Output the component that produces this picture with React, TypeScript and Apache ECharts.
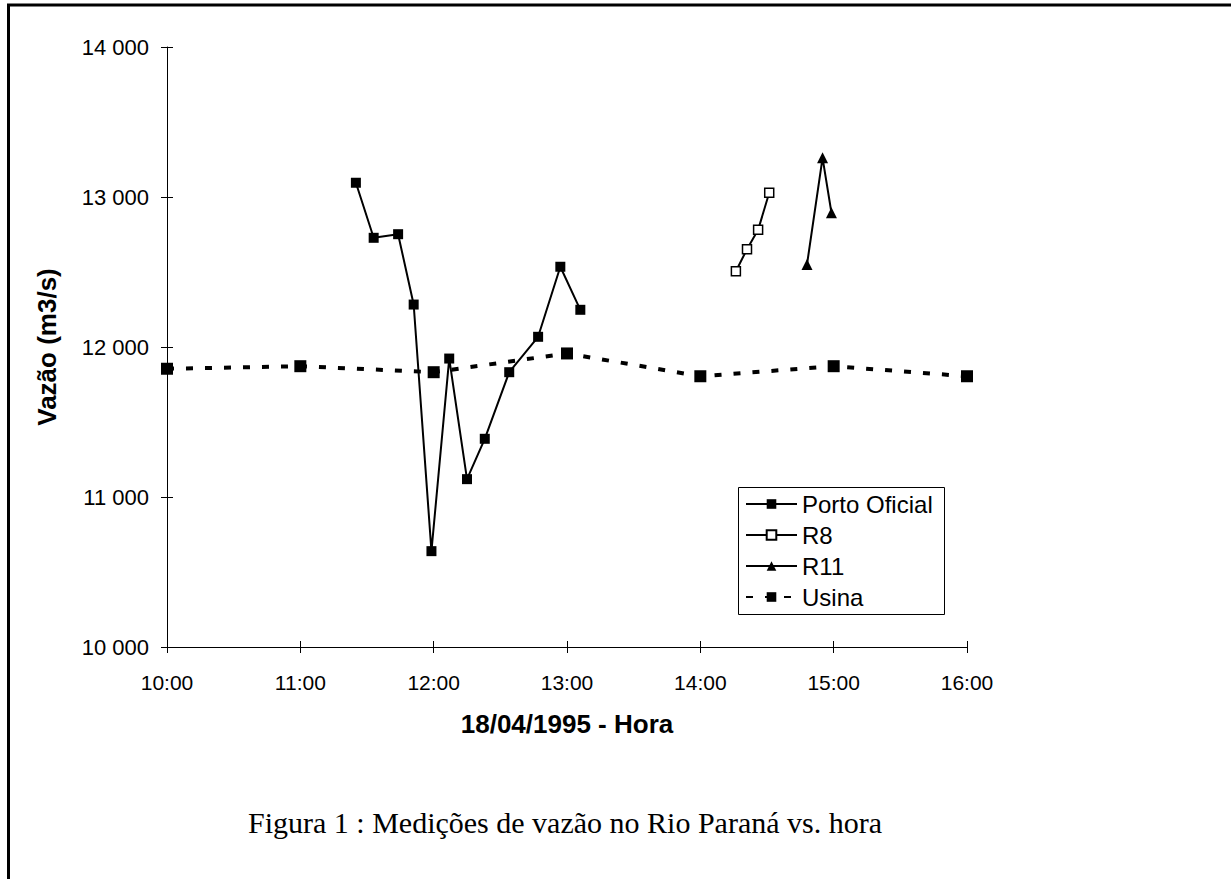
import React, { useEffect, useRef } from "react";
import * as echarts from "echarts";

const portoTimes = ["11:25", "11:33", "11:44", "11:51", "11:59", "12:07", "12:15", "12:23", "12:34", "12:47", "12:57", "13:06"];
const portoValues = [13095, 12728, 12752, 12283, 10639, 11923, 11119, 11388, 11832, 12068, 12535, 12248];
const r8Times = ["14:16", "14:21", "14:26", "14:31"];
const r8Values = [12505, 12652, 12781, 13028];
const r11Times = ["14:48", "14:55", "14:59"];
const r11Values = [12550, 13261, 12895];
const usinaTimes = ["10:00", "11:00", "12:00", "13:00", "14:00", "15:00", "16:00"];
const usinaValues = [11855, 11872, 11832, 11957, 11805, 11872, 11805];
const legendNames = ["Porto Oficial", "R8", "R11", "Usina"];

const toHours = (t: string) => {
  const [h, m] = t.split(":").map(Number);
  return h + m / 60;
};
const pair = (times: string[], vals: number[]) => times.map((t, i) => [toHours(t), vals[i]]);
const fmtHour = (v: number) => `${Math.round(v)}:00`;
const fmtVal = (v: number) => {
  const s = String(v);
  return s.length > 3 ? s.slice(0, s.length - 3) + " " + s.slice(-3) : s;
};

export default function App() {
  const ref = useRef<HTMLDivElement>(null);
  useEffect(() => {
    if (!ref.current) return;
    const chart = echarts.init(ref.current, undefined, { renderer: "svg" });
    const font = "Liberation Sans, Arial, sans-serif";
    const axisCommonX = { type: "value", min: 10, max: 16, interval: 1, gridIndex: 0, position: "bottom", splitLine: { show: false } };
    const axisCommonY = { type: "value", min: 10000, max: 14000, interval: 1000, gridIndex: 0, position: "left", splitLine: { show: false } };
    chart.setOption({
      animation: false,
      backgroundColor: "#fff",
      grid: { left: 167, right: 264, top: 47, bottom: 232, containLabel: false },
      xAxis: [
        {
          ...axisCommonX,
          name: "18/04/1995 - Hora",
          nameLocation: "middle",
          nameGap: 64,
          nameTextStyle: { fontFamily: font, fontSize: 26, fontWeight: "bold", color: "#000" },
          axisLine: { show: true, lineStyle: { color: "#000", width: 1 } },
          axisTick: { show: true, inside: false, length: 6, lineStyle: { color: "#000" } },
          axisLabel: { formatter: fmtHour, fontFamily: font, fontSize: 21, color: "#000", margin: 25 },
        },
        {
          ...axisCommonX,
          axisLine: { show: false },
          axisTick: { show: true, inside: true, length: 6, lineStyle: { color: "#000" } },
          axisLabel: { show: false },
        },
      ],
      yAxis: [
        {
          ...axisCommonY,
          name: "Vazão (m3/s)",
          nameLocation: "middle",
          nameGap: 107,
          nameTextStyle: { fontFamily: font, fontSize: 26, fontWeight: "bold", color: "#000" },
          axisLine: { show: true, lineStyle: { color: "#000", width: 1 } },
          axisTick: { show: true, inside: false, length: 6, lineStyle: { color: "#000" } },
          axisLabel: { formatter: fmtVal, fontFamily: font, fontSize: 22, color: "#000", margin: 18 },
        },
        {
          ...axisCommonY,
          axisLine: { show: false },
          axisTick: { show: true, inside: true, length: 6, lineStyle: { color: "#000" } },
          axisLabel: { show: false },
        },
      ],
      legend: {
        show: true,
        orient: "vertical",
        left: 745,
        top: 492,
        padding: 0,
        itemGap: 7,
        itemWidth: 51,
        itemHeight: 12,
        textStyle: { fontFamily: font, fontSize: 24, color: "#000" },
        data: legendNames,
      },
      graphic: [
        { type: "line", shape: { x1: 8.5, y1: 4, x2: 8.5, y2: 879 }, style: { stroke: "#000", lineWidth: 3 } },
        { type: "line", shape: { x1: 7, y1: 5, x2: 1231, y2: 5 }, style: { stroke: "#000", lineWidth: 3 } },
        {
          type: "rect",
          shape: { x: 738.5, y: 487.5, width: 206, height: 127 },
          style: { fill: "none", stroke: "#000", lineWidth: 1 },
          z: 10,
        },
        {
          type: "text",
          x: 565,
          y: 822,
          style: {
            text: "Figura 1 : Medições de vazão no Rio Paraná vs. hora",
            fontFamily: "Liberation Serif, Times New Roman, serif",
            fontSize: 30,
            fill: "#000",
            align: "center",
            verticalAlign: "middle",
          },
        },
      ],
      series: [
        {
          name: "Porto Oficial",
          type: "line",
          data: pair(portoTimes, portoValues),
          symbol: "rect",
          symbolSize: 10,
          lineStyle: { color: "#000", width: 2 },
          itemStyle: { color: "#000", borderColor: "#000", borderWidth: 0 },
        },
        {
          name: "R8",
          type: "line",
          data: pair(r8Times, r8Values),
          symbol: "rect",
          symbolSize: 9,
          lineStyle: { color: "#000", width: 2 },
          itemStyle: { color: "#fff", borderColor: "#000", borderWidth: 1.5 },
        },
        {
          name: "R11",
          type: "line",
          data: pair(r11Times, r11Values),
          symbol: "triangle",
          symbolSize: 11,
          lineStyle: { color: "#000", width: 2 },
          itemStyle: { color: "#000", borderColor: "#000", borderWidth: 0 },
        },
        {
          name: "Usina",
          type: "line",
          data: pair(usinaTimes, usinaValues),
          symbol: "rect",
          symbolSize: 12,
          lineStyle: { color: "#000", width: 4, type: [7, 12] },
          itemStyle: { color: "#000", borderColor: "#000", borderWidth: 0 },
        },
      ],
    });
    return () => chart.dispose();
  }, []);
  return (
    <div
      ref={ref}
      style={{ position: "absolute", left: 0, top: 0, width: 1231, height: 879, background: "#fff" }}
    />
  );
}
